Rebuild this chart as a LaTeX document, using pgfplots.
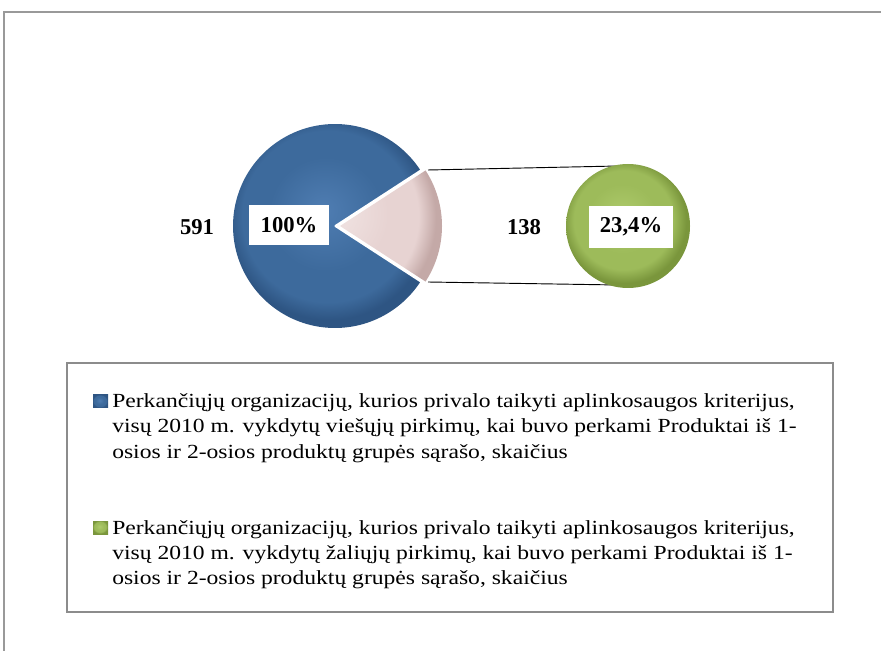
\documentclass[border=0pt]{standalone}
\usepackage{pgfplots}
\pgfplotsset{compat=1.18}
\usepackage{fontspec}
\setmainfont{Liberation Serif}
\newfontfamily\legfont[FakeStretch=1.18]{Liberation Serif}
\definecolor{pieblue}{HTML}{3D6A9C}
\definecolor{pieblueL}{HTML}{4F7DB2}
\definecolor{pieblueD}{HTML}{2E5583}
\definecolor{piepink}{HTML}{E7D3D2}
\definecolor{piepinkL}{HTML}{F2E6E5}
\definecolor{piepinkD}{HTML}{C4A9A7}
\definecolor{piegreen}{HTML}{9DBB5A}
\definecolor{piegreenL}{HTML}{AECB6C}
\definecolor{piegreenD}{HTML}{7A963C}
\definecolor{framegray}{HTML}{999999}
\definecolor{legendgray}{HTML}{8C8C8C}

% values of the chart
\def\total{591}
\def\green{138}
\def\pct{23,4}

\pgfdeclareradialshading{bevelblue}{\pgfpoint{-3bp}{4bp}}{%
  color(0bp)=(pieblueL); color(14bp)=(pieblue); color(21bp)=(pieblue); color(25bp)=(pieblueD); color(50bp)=(pieblueD)}
\pgfdeclareradialshading{bevelpink}{\pgfpoint{-3bp}{4bp}}{%
  color(0bp)=(piepinkL); color(14bp)=(piepink); color(21bp)=(piepink); color(25bp)=(piepinkD); color(50bp)=(piepinkD)}
\pgfdeclareradialshading{bevelgreen}{\pgfpoint{-3bp}{4bp}}{%
  color(0bp)=(piegreenL); color(14bp)=(piegreen); color(20bp)=(piegreen); color(25bp)=(piegreenD); color(50bp)=(piegreenD)}

\newcommand{\legline}[2]{\node[anchor=base west, inner sep=0pt, font=\legfont\fontsize{15}{18}\selectfont] at (axis cs:112,#1) {#2};}

\begin{document}
\begin{tikzpicture}
\useasboundingbox (0,0) rectangle (660.75pt,487.5pt);
\begin{axis}[
    at={(0,0)}, anchor=south west,
    x=0.75pt, y=0.75pt,
    xmin=0, xmax=881, ymin=0, ymax=650,
    hide axis, clip=false,
]
% outer frame (left and top edges visible)
\draw[framegray, line width=1.5pt] (axis cs:4,-5) -- (axis cs:4,638) -- (axis cs:890,638);

% big pie: blue part
\begin{scope}
  \clip (axis cs:335,424) -- ++(33:76.5pt) arc[start angle=33, end angle=327, radius=76.5pt] -- cycle;
  \shade[shading=bevelblue] (axis cs:335,424) circle[radius=76.5pt];
\end{scope}
% big pie: pink part (slightly pulled out)
\begin{scope}
  \clip (axis cs:340,424) -- ++(-33:76.5pt) arc[start angle=-33, end angle=33, radius=76.5pt] -- cycle;
  \shade[shading=bevelpink] (axis cs:340,424) circle[radius=76.5pt];
\end{scope}
\draw[white, line width=1.2pt] (axis cs:335,424) -- ++(33:77pt);
\draw[white, line width=1.2pt] (axis cs:335,424) -- ++(-33:77pt);

% connector lines
\draw[black, line width=0.7pt] (axis cs:428,480) -- (axis cs:618,484);
\draw[black, line width=0.7pt] (axis cs:428,368) -- (axis cs:618,365);

% small pie
\shade[shading=bevelgreen] (axis cs:628,424) circle[radius=46.5pt];

% data labels
\node[font=\fontsize{17}{20}\selectfont\bfseries] at (axis cs:197,423) {\total};
\node[fill=white, font=\fontsize{17}{20}\selectfont\bfseries, minimum width=60pt, minimum height=30pt, inner sep=0pt] at (axis cs:289,425) {100\%};
\node[font=\fontsize{17}{20}\selectfont\bfseries] at (axis cs:524,423) {\green};
\node[fill=white, font=\fontsize{17}{20}\selectfont\bfseries, minimum width=63pt, minimum height=32pt, inner sep=0pt] at (axis cs:631,423) {\pct\%};

% legend box
\draw[legendgray, line width=1.2pt] (axis cs:67,38) rectangle (axis cs:833,287);
\begin{scope}
  \clip (axis cs:93,242) rectangle (axis cs:108,255);
  \shade[shading=bevelblue] (axis cs:93,242) rectangle (axis cs:108,255);
\end{scope}
\begin{scope}
  \clip (axis cs:93,116) rectangle (axis cs:108,129);
  \shade[shading=bevelgreen] (axis cs:93,116) rectangle (axis cs:108,129);
\end{scope}
\legline{242}{Perkančiųjų organizacijų, kurios privalo taikyti aplinkosaugos kriterijus,}
\legline{217}{visų 2010 m. vykdytų viešųjų pirkimų, kai buvo perkami Produktai iš 1-}
\legline{192}{osios ir 2-osios produktų grupės sąrašo, skaičius}
\legline{116}{Perkančiųjų organizacijų, kurios privalo taikyti aplinkosaugos kriterijus,}
\legline{91}{visų 2010 m. vykdytų žaliųjų pirkimų, kai buvo perkami Produktai iš 1-}
\legline{66}{osios ir 2-osios produktų grupės sąrašo, skaičius}
\end{axis}
\end{tikzpicture}
\end{document}
